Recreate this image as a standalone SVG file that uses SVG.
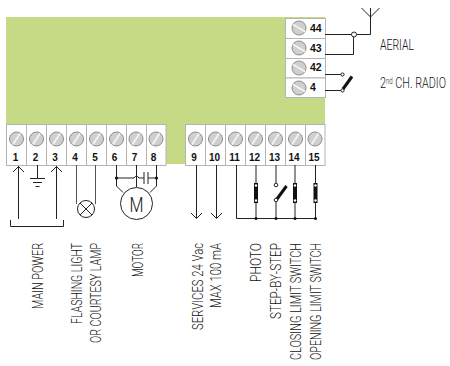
<svg xmlns="http://www.w3.org/2000/svg" width="450" height="366" viewBox="0 0 450 366">
<style>
.t{fill:#fff;stroke:#b4b4b4;stroke-width:1}
.sc{fill:#cfcfcf;stroke:#8c8c8c;stroke-width:1}
.sl{stroke:#f4f4f4;stroke-width:1.800;fill:none}
.n{font-family:"Liberation Sans",Arial,sans-serif;font-weight:700;font-size:10px;fill:#111;text-anchor:middle}
.m{font-family:"Liberation Sans",Arial,sans-serif;font-weight:700;font-size:10.500px;fill:#111}
.l{font-family:Roboto,"Liberation Sans",sans-serif;font-weight:300;font-size:15px;fill:#111;text-anchor:end}
.r{font-family:Roboto,"Liberation Sans",sans-serif;font-weight:300;font-size:15px;fill:#111}
.w{fill:none;stroke:#222;stroke-width:1}
.g{fill:none;stroke:#555;stroke-width:1}
.d{fill:#111}
.o{fill:#fff;stroke:#222;stroke-width:1}
.b{stroke:#111;stroke-width:3;fill:none}
.rb{fill:#111}
.rd{fill:#fff}
</style>
<defs>
<g id="sv"><circle r="7" class="sc"/><path d="M-3.500 5.500L3.500-5.500" class="sl"/></g>
<g id="sh"><circle r="7" class="sc"/><path d="M-6-3.500L6 3.500" class="sl"/></g>
<g id="res"><rect x="-2" y="0" width="4" height="20" class="rb"/><circle cy="2.500" r="1.200" class="rd"/><circle cy="17.500" r="1.200" class="rd"/></g>
</defs>
<rect id="board" x="6" y="17" width="319" height="147" fill="#c6d985"/>
<rect x="187" y="124" width="138" height="60" fill="#fff"/>
<g id="t1"><rect class="t" x="6.500" y="124.500" width="20" height="41"/><use href="#sv" x="16.500" y="139"/><text class="n" x="15.500" y="161">1</text></g>
<g id="t2"><rect class="t" x="26.500" y="124.500" width="20" height="41"/><use href="#sv" x="36.500" y="139"/><text class="n" x="35.500" y="161">2</text></g>
<g id="t3"><rect class="t" x="46.500" y="124.500" width="20" height="41"/><use href="#sv" x="56.500" y="139"/><text class="n" x="55" y="161">3</text></g>
<g id="t4"><rect class="t" x="66.500" y="124.500" width="20" height="41"/><use href="#sv" x="76.500" y="139"/><text class="n" x="75" y="161">4</text></g>
<g id="t5"><rect class="t" x="86.500" y="124.500" width="20" height="41"/><use href="#sv" x="96.500" y="139"/><text class="n" x="95" y="161">5</text></g>
<g id="t6"><rect class="t" x="106.500" y="124.500" width="20" height="41"/><use href="#sv" x="116.500" y="139"/><text class="n" x="114.500" y="161">6</text></g>
<g id="t7"><rect class="t" x="126.500" y="124.500" width="20" height="41"/><use href="#sv" x="136" y="139"/><text class="n" x="134.500" y="161">7</text></g>
<g id="t8"><rect class="t" x="146.500" y="124.500" width="19.500" height="41"/><use href="#sv" x="156" y="139"/><text class="n" x="153.500" y="161">8</text></g>
<g id="t9"><rect class="t" x="185.500" y="124.500" width="20" height="41"/><use href="#sv" x="195.500" y="139"/><text class="n" x="194" y="161">9</text></g>
<g id="t10"><rect class="t" x="205.500" y="124.500" width="20" height="41"/><use href="#sv" x="215.500" y="139"/><text class="n" x="214.500" y="161">10</text></g>
<g id="t11"><rect class="t" x="225.500" y="124.500" width="20" height="41"/><use href="#sv" x="235.500" y="139"/><text class="n" x="234.500" y="161">11</text></g>
<g id="t12"><rect class="t" x="245.500" y="124.500" width="20" height="41"/><use href="#sv" x="255.500" y="139"/><text class="n" x="254.500" y="161">12</text></g>
<g id="t13"><rect class="t" x="265.500" y="124.500" width="20" height="41"/><use href="#sv" x="275.500" y="139"/><text class="n" x="274.500" y="161">13</text></g>
<g id="t14"><rect class="t" x="285.500" y="124.500" width="20" height="41"/><use href="#sv" x="295.500" y="139"/><text class="n" x="294" y="161">14</text></g>
<g id="t15"><rect class="t" x="305.500" y="124.500" width="19.500" height="41"/><use href="#sv" x="315" y="139"/><text class="n" x="314" y="161">15</text></g>
<g id="t44"><rect class="t" x="285.500" y="18.500" width="40" height="20"/><use href="#sh" x="299" y="28"/><text class="m" x="310" y="32">44</text></g>
<g id="t43"><rect class="t" x="285.500" y="38.500" width="40" height="20"/><use href="#sh" x="299" y="48"/><text class="m" x="310" y="52">43</text></g>
<g id="t42"><rect class="t" x="285.500" y="58.500" width="40" height="19.500"/><use href="#sh" x="299" y="68"/><text class="m" x="310" y="71">42</text></g>
<g id="t4b"><rect class="t" x="285.500" y="78" width="40" height="19.500"/><use href="#sh" x="299" y="88"/><text class="m" x="310" y="91">4</text></g>
<g id="connectors">
<path class="w" d="M325 34.500H370.500V8M361.500 8L370.500 17L379.500 8"/>
<path class="w" d="M325 54.500H353.500V36"/>
<circle class="o" cx="354" cy="34.500" r="2.500"/>
<path class="w" d="M325 74.500H342M325 90.500H342"/>
<path class="b" d="M343 89L352 76.500"/>
<circle class="o" cx="342.500" cy="74.500" r="1.600"/>
<circle class="o" cx="342.500" cy="90.500" r="1.600"/>
<path class="w" d="M18.500 166V219M13 172L18.500 166.500L24 172M56.500 166V219M51 172L56.500 166.500L62 172"/>
<path class="w" d="M10.500 220V226.500H63.500V220"/>
<path class="w" d="M37.500 165V178.500M30 178.500H45M33 182.500H42M35.500 186.500H39.500"/>
<path class="g" d="M76.500 165V204M95.500 165V204"/>
<circle class="o" cx="86" cy="209" r="8.500"/>
<path class="w" d="M80 203L92 215M92 203L80 215"/>
<path class="w" d="M116.500 165V186L123 192.500M156.500 165V186L150 192.500M136.500 165V187"/>
<path class="w" d="M116.500 178H134Q136.500 174 139 178H144M148 178H156.500M144 172V184M148 172V184"/>
<circle class="d" cx="116.500" cy="178" r="1.600"/><circle class="d" cx="156.500" cy="178" r="1.600"/>
<circle class="o" cx="136.500" cy="203.500" r="16"/>
<path class="w" d="M196.500 165V218M191 213L196.500 218.500L202 213M216.500 165V218M211 213L216.500 218.500L222 213"/>
<path class="w" d="M236.500 165V218.500H315.500M256 165V218M276 165V183M276 200V218M295 165V218M315.500 165V218"/>
<use href="#res" x="256" y="183"/><use href="#res" x="295" y="183"/><use href="#res" x="315.500" y="183"/>
<path class="b" d="M277 199L286.500 186"/>
<circle class="o" cx="276" cy="185" r="1.800"/><circle class="o" cx="276" cy="200" r="1.800"/>
<circle class="d" cx="256" cy="218.500" r="1.500"/><circle class="d" cx="276" cy="218.500" r="1.500"/><circle class="d" cx="295" cy="218.500" r="1.500"/><circle class="d" cx="315.500" cy="218.500" r="1.500"/>
</g>
<g id="labels">
<text x="129.500" y="211.500" font-family="Roboto, Liberation Sans, sans-serif" font-weight="300" font-size="20" fill="#111" textLength="14" lengthAdjust="spacingAndGlyphs">M</text>
<text class="r" x="380" y="49.500" textLength="34" lengthAdjust="spacingAndGlyphs">AERIAL</text>
<text class="r" transform="translate(380 87.500) scale(.72 1)">2<tspan font-size="8.500" dy="-4">nd</tspan><tspan dy="4"> CH. RADIO</tspan></text>
<text class="l" transform="translate(42.500 243) rotate(-90)" textLength="66" lengthAdjust="spacingAndGlyphs">MAIN POWER</text>
<text class="l" transform="translate(82 243) rotate(-90)" textLength="81" lengthAdjust="spacingAndGlyphs">FLASHING LIGHT</text>
<text class="l" transform="translate(100.500 243) rotate(-90)" textLength="100" lengthAdjust="spacingAndGlyphs">OR COURTESY LAMP</text>
<text class="l" transform="translate(142.500 243) rotate(-90)" textLength="34" lengthAdjust="spacingAndGlyphs">MOTOR</text>
<text class="l" transform="translate(202.500 243) rotate(-90)" textLength="87" lengthAdjust="spacingAndGlyphs">SERVICES 24 Vac</text>
<text class="l" transform="translate(220.500 243) rotate(-90)" textLength="65" lengthAdjust="spacingAndGlyphs">MAX 100 mA</text>
<text class="l" transform="translate(260.500 243) rotate(-90)" textLength="39" lengthAdjust="spacingAndGlyphs">PHOTO</text>
<text class="l" transform="translate(280.500 243) rotate(-90)" textLength="76" lengthAdjust="spacingAndGlyphs">STEP-BY-STEP</text>
<text class="l" transform="translate(300.500 243) rotate(-90)" textLength="117" lengthAdjust="spacingAndGlyphs">CLOSING LIMIT SWITCH</text>
<text class="l" transform="translate(320.500 243) rotate(-90)" textLength="117" lengthAdjust="spacingAndGlyphs">OPENING LIMIT SWITCH</text>
</g>
</svg>
